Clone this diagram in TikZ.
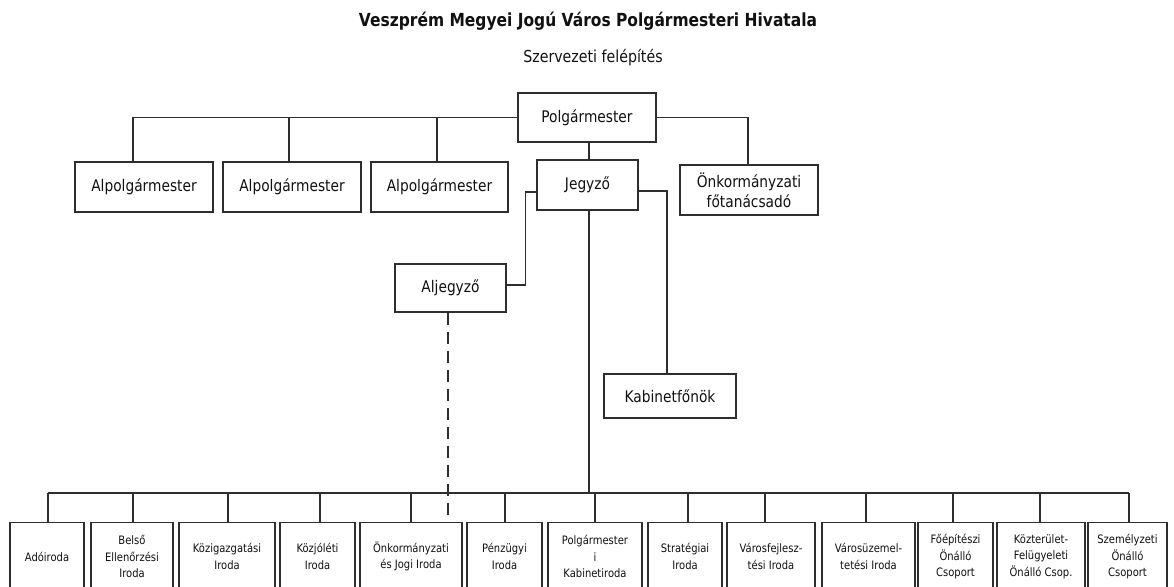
\documentclass[tikz,border=0pt]{standalone}
\usepackage{fontspec}
\setmainfont{DejaVu Sans}[FakeStretch=0.86]
\usetikzlibrary{shadows}
\definecolor{linec}{HTML}{2E2E2E}
\definecolor{txt}{HTML}{111111}
\tikzset{
  box/.style={draw=linec, line width=1.2pt, fill=white, inner sep=0pt, align=center,
    text=txt, font=\fontsize{16}{20}\selectfont,
    drop shadow={shadow xshift=1.4pt, shadow yshift=-1.4pt, fill=black!40, opacity=1}},
  unit/.style={box, anchor=north, minimum height=68pt, font=\fontsize{11.6}{16.5}\selectfont},
  conn/.style={draw=linec, line width=1.2pt},
  dashconn/.style={conn, dash pattern=on 12pt off 7pt},
}
\begin{document}
\begin{tikzpicture}[x=1pt, y=-1pt]
\useasboundingbox (0,0) rectangle (1174,586);
\fill[white] (0,0) rectangle (1174,586);

\node[text=txt, font=\bfseries\fontsize{18}{20}\selectfont] (title) at (588,21) {Veszprém Megyei Jogú Város Polgármesteri Hivatala};
\node[text=txt, font=\fontsize{16.5}{18}\selectfont] (sub) at (593,58) {Szervezeti felépítés};

% top level
\node[box, minimum width=138pt, minimum height=49pt] (polg) at (587,117.5) {Polgármester};
\node[box, minimum width=138pt, minimum height=50pt] (alp1) at (144,187) {Alpolgármester};
\node[box, minimum width=138pt, minimum height=50pt] (alp2) at (292,187) {Alpolgármester};
\node[box, minimum width=137pt, minimum height=50pt] (alp3) at (439.5,187) {Alpolgármester};
\node[box, minimum width=101pt, minimum height=50pt] (jegy) at (587.5,185) {Jegyző};
\node[box, minimum width=138pt, minimum height=50pt] (onk) at (749,190) {Önkormányzati\\főtanácsadó};
\node[box, minimum width=111pt, minimum height=48pt] (alj) at (450.5,288) {Aljegyző};
\node[box, minimum width=132pt, minimum height=44pt] (kab) at (670,396) {Kabinetfőnök};

% bottom units
\node[unit, minimum width=74pt] (u1) at (47,522) {Adóiroda};
\node[unit, minimum width=82pt] (u2) at (132,522) {Belső\\Ellenőrzési\\Iroda};
\node[unit, minimum width=96pt] (u3) at (227,522) {Közigazgatási\\Iroda};
\node[unit, minimum width=75pt] (u4) at (317.5,522) {Közjóléti\\Iroda};
\node[unit, minimum width=102pt] (u5) at (411,522) {Önkormányzati\\és Jogi Iroda};
\node[unit, minimum width=75pt] (u6) at (504.5,522) {Pénzügyi\\Iroda};
\node[unit, minimum width=94pt] (u7) at (595,522) {Polgármester\\i\\Kabinetiroda};
\node[unit, minimum width=74pt] (u8) at (685,522) {Stratégiai\\Iroda};
\node[unit, minimum width=88pt] (u9) at (771,522) {Városfejlesz-\\tési Iroda};
\node[unit, minimum width=93pt] (u10) at (868.5,522) {Városüzemel-\\tetési Iroda};
\node[unit, minimum width=75pt] (u11) at (955.5,522) {Főépítészi\\Önálló\\Csoport};
\node[unit, minimum width=88pt] (u12) at (1041,522) {Közterület-\\Felügyeleti\\Önálló Csop.};
\node[unit, minimum width=79pt] (u13) at (1127.5,522) {Személyzeti\\Önálló\\Csoport};

% connectors, top
\draw[conn] (polg.west) -| ([xshift=-11pt]alp1.north);
\draw[conn] ([xshift=-3pt]alp2.north) |- (polg.west);
\draw[conn] ([xshift=-2.5pt]alp3.north) |- (polg.west);
\draw[conn] (polg.east) -| ([xshift=-1pt]onk.north);
\draw[conn] ([xshift=2pt]polg.south) -- ([xshift=1.5pt]jegy.north);
\draw[conn] ([yshift=-7pt]jegy.west) -- ++(-11,0) |- ([yshift=3pt]alj.east);
\draw[conn] ([yshift=-6pt]jegy.east) -| ([xshift=-3pt]kab.north);

% bus
\coordinate (busL) at (48,493);
\coordinate (busR) at (1129,493);
\draw[conn] (busL) -- (busR);
\draw[conn] ([xshift=1.5pt]jegy.south) -- ([xshift=1.5pt]jegy.south |- busL);
\draw[conn] ([xshift=1pt]u1.north) -- ([xshift=1pt]u1.north |- busL);
\draw[conn] ([xshift=1pt]u2.north) -- ([xshift=1pt]u2.north |- busL);
\draw[conn] ([xshift=1pt]u3.north) -- ([xshift=1pt]u3.north |- busL);
\draw[conn] ([xshift=2.5pt]u4.north) -- ([xshift=2.5pt]u4.north |- busL);
\draw[conn] (u5.north) -- (u5.north |- busL);
\draw[conn] ([xshift=0.5pt]u6.north) -- ([xshift=0.5pt]u6.north |- busL);
\draw[conn] (u7.north) -- (u7.north |- busL);
\draw[conn] ([xshift=3pt]u8.north) -- ([xshift=3pt]u8.north |- busL);
\draw[conn] ([xshift=-6pt]u9.north) -- ([xshift=-6pt]u9.north |- busL);
\draw[conn] ([xshift=-2.5pt]u10.north) -- ([xshift=-2.5pt]u10.north |- busL);
\draw[conn] ([xshift=-2.5pt]u11.north) -- ([xshift=-2.5pt]u11.north |- busL);
\draw[conn] ([xshift=-1pt]u12.north) -- ([xshift=-1pt]u12.north |- busL);
\draw[conn] ([xshift=1.5pt]u13.north) -- ([xshift=1.5pt]u13.north |- busL);

% dashed link
\draw[dashconn] ([xshift=-2.5pt]alj.south) -- ([xshift=-2.5pt]alj.south |- u5.north);
\end{tikzpicture}
\end{document}
